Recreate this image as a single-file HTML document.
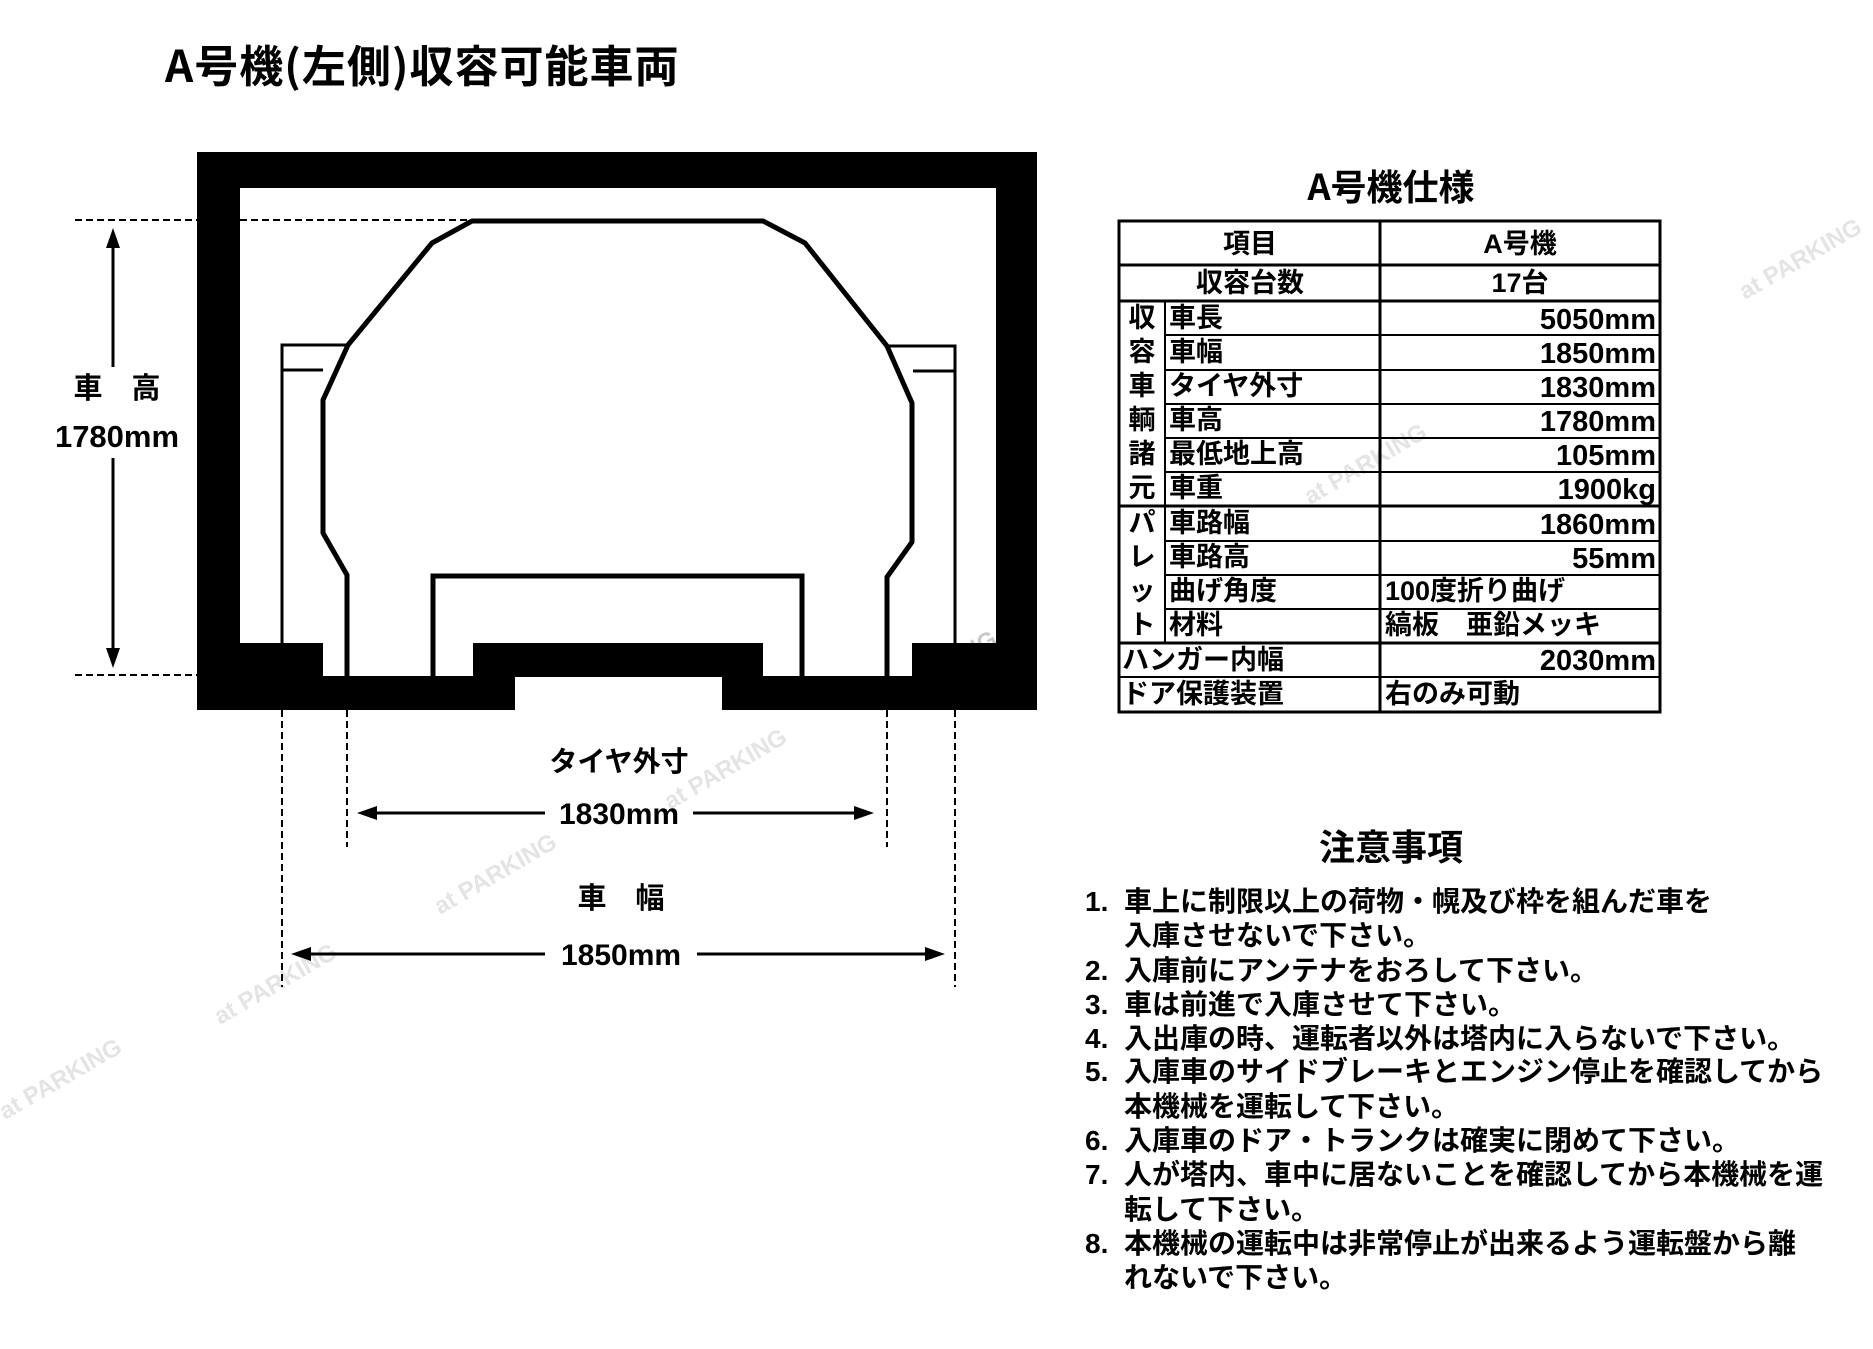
<!DOCTYPE html>
<html><head><meta charset="utf-8"><style>
html,body{margin:0;padding:0;background:#fff;width:1873px;height:1349px;overflow:hidden}
svg{display:block}
text{font-family:"Liberation Sans","Noto Sans CJK JP",sans-serif;font-weight:bold;fill:#000}
.j{font-family:"Noto Sans CJK JP","Liberation Sans",sans-serif}
text.wm{fill:#e4e4e4;font-family:"Liberation Sans",sans-serif;font-size:24px}
text.wm2{fill:#c8c8c8;font-family:"Liberation Sans",sans-serif;font-size:24px}
</style></head><body>
<svg width="1873" height="1349" viewBox="0 0 1873 1349" xmlns="http://www.w3.org/2000/svg">
<!-- watermarks -->
<text class="wm2" transform="translate(880,712) rotate(-30)">at PARKING</text>
<text class="wm" transform="translate(670,810) rotate(-30)">at PARKING</text>
<text class="wm" transform="translate(440,915) rotate(-30)">at PARKING</text>
<text class="wm" transform="translate(220,1025) rotate(-30)">at PARKING</text>
<text class="wm" transform="translate(5,1120) rotate(-30)">at PARKING</text>
<text class="wm" transform="translate(1310,505) rotate(-30)">at PARKING</text>
<text class="wm" transform="translate(1745,300) rotate(-30)">at PARKING</text>

<text x="165" y="82" font-size="44" class="j" letter-spacing="1">A号機(左側)収容可能車両</text>

<!-- frame -->
<g fill="#000">
<rect x="197" y="152" width="840" height="36"/>
<rect x="197" y="152" width="43" height="558"/>
<rect x="996" y="152" width="41" height="558"/>
<rect x="197" y="643" width="126" height="67"/>
<rect x="912" y="643" width="125" height="67"/>
<rect x="197" y="676" width="318" height="34"/>
<rect x="722" y="676" width="315" height="34"/>
<rect x="473" y="643" width="290" height="34"/>
</g>
<polyline points="433,676 433,576 802,576 802,676" fill="none" stroke="#000" stroke-width="5"/>
<polyline points="347,676 347,575 323,533 323,400 348,345 432,243 472,221 763,221 805,243 887,346 912,403 912,542 887,577 887,676" fill="none" stroke="#000" stroke-width="5" stroke-linejoin="round"/>
<g fill="none" stroke="#000" stroke-width="3">
<polyline points="282,644 282,345 348,345"/>
<polyline points="282,370 323,370"/>
<polyline points="887,346 955,346 955,644"/>
<polyline points="913,371 955,371"/>
</g>
<g stroke="#000" stroke-width="2" stroke-dasharray="7,4" fill="none">
<line x1="75" y1="220" x2="197" y2="220"/>
<line x1="240" y1="220" x2="472" y2="220"/>
<line x1="75" y1="675" x2="197" y2="675"/>
<line x1="282" y1="370" x2="282" y2="644"/>
<line x1="955" y1="371" x2="955" y2="644"/>
<line x1="282" y1="710" x2="282" y2="987"/>
<line x1="347" y1="710" x2="347" y2="847"/>
<line x1="887" y1="710" x2="887" y2="847"/>
<line x1="955" y1="710" x2="955" y2="987"/>
</g>
<g stroke="#000" stroke-width="3">
<line x1="113" y1="240" x2="113" y2="367"/>
<line x1="113" y1="458" x2="113" y2="655"/>
<line x1="370" y1="813" x2="545" y2="813"/>
<line x1="693" y1="813" x2="860" y2="813"/>
<line x1="305" y1="954" x2="545" y2="954"/>
<line x1="697" y1="954" x2="930" y2="954"/>
</g>
<g fill="#000">
<polygon points="113,228 106,248 120,248"/>
<polygon points="113,668 106,648 120,648"/>
<polygon points="357,813 377,806 377,820"/>
<polygon points="874,813 854,806 854,820"/>
<polygon points="291,954 311,947 311,961"/>
<polygon points="945,954 925,947 925,961"/>
</g>
<text x="117" y="398" font-size="29" text-anchor="middle" class="j">車　高</text>
<text x="117" y="447" font-size="31" text-anchor="middle">1780mm</text>
<text x="619" y="771" font-size="28" text-anchor="middle" class="j">タイヤ外寸</text>
<text x="619" y="824" font-size="30" text-anchor="middle">1830mm</text>
<text x="621" y="908" font-size="29" text-anchor="middle" class="j">車　幅</text>
<text x="621" y="965" font-size="30" text-anchor="middle">1850mm</text>

<!-- table -->
<text x="1391" y="200" font-size="36" text-anchor="middle" class="j">A号機仕様</text>
<g stroke="#000" fill="none">
<rect x="1119" y="221" width="541" height="491" stroke-width="3"/>
<line x1="1380" y1="221" x2="1380" y2="712" stroke-width="3"/>
<line x1="1165" y1="301" x2="1165" y2="643" stroke-width="2"/>
<line x1="1119" y1="265" x2="1660" y2="265" stroke-width="3"/>
<line x1="1119" y1="301" x2="1660" y2="301" stroke-width="3"/>
<line x1="1165" y1="335" x2="1660" y2="335" stroke-width="2"/>
<line x1="1165" y1="370" x2="1660" y2="370" stroke-width="2"/>
<line x1="1165" y1="404" x2="1660" y2="404" stroke-width="2"/>
<line x1="1165" y1="438" x2="1660" y2="438" stroke-width="2"/>
<line x1="1165" y1="472" x2="1660" y2="472" stroke-width="2"/>
<line x1="1119" y1="506" x2="1660" y2="506" stroke-width="3"/>
<line x1="1165" y1="541" x2="1660" y2="541" stroke-width="2"/>
<line x1="1165" y1="575" x2="1660" y2="575" stroke-width="2"/>
<line x1="1165" y1="609" x2="1660" y2="609" stroke-width="2"/>
<line x1="1119" y1="643" x2="1660" y2="643" stroke-width="3"/>
<line x1="1119" y1="677" x2="1660" y2="677" stroke-width="2"/>
</g>
<g font-size="27" class="j">
<text x="1250" y="253" text-anchor="middle">項目</text>
<text x="1520" y="253" text-anchor="middle">A号機</text>
<text x="1250" y="292" text-anchor="middle">収容台数</text>
<text x="1520" y="292" text-anchor="middle">17台</text>
<g text-anchor="middle">
<text x="1142" y="327">収</text><text x="1142" y="361">容</text><text x="1142" y="395">車</text>
<text x="1142" y="429">輌</text><text x="1142" y="463">諸</text><text x="1142" y="497">元</text>
<text x="1142" y="532">パ</text><text x="1142" y="566">レ</text><text x="1142" y="600">ッ</text><text x="1142" y="634">ト</text>
</g>
<text x="1169" y="327">車長</text><text x="1169" y="361">車幅</text><text x="1169" y="395">タイヤ外寸</text>
<text x="1169" y="429">車高</text><text x="1169" y="463">最低地上高</text><text x="1169" y="497">車重</text>
<text x="1169" y="532">車路幅</text><text x="1169" y="566">車路高</text><text x="1169" y="600">曲げ角度</text><text x="1169" y="634">材料</text>
<text x="1122" y="669">ハンガー内幅</text><text x="1122" y="703">ドア保護装置</text>
<text x="1385" y="600">100度折り曲げ</text>
<text x="1385" y="634">縞板　亜鉛メッキ</text>
<text x="1385" y="703">右のみ可動</text>
</g>
<g font-size="29" text-anchor="end">
<text x="1656" y="329">5050mm</text><text x="1656" y="363">1850mm</text><text x="1656" y="397">1830mm</text>
<text x="1656" y="431">1780mm</text><text x="1656" y="465">105mm</text><text x="1656" y="499">1900kg</text>
<text x="1656" y="534">1860mm</text><text x="1656" y="568">55mm</text><text x="1656" y="670">2030mm</text>
</g>

<!-- notes -->
<text x="1391" y="860" font-size="36" text-anchor="middle" class="j">注意事項</text>
<g font-size="28" class="j">
<text x="1085" y="911">1.</text><text x="1124" y="911">車上に制限以上の荷物・幌及び枠を組んだ車を</text>
<text x="1124" y="945">入庫させないで下さい。</text>
<text x="1085" y="980">2.</text><text x="1124" y="980">入庫前にアンテナをおろして下さい。</text>
<text x="1085" y="1014">3.</text><text x="1124" y="1014">車は前進で入庫させて下さい。</text>
<text x="1085" y="1048">4.</text><text x="1124" y="1048">入出庫の時、運転者以外は塔内に入らないで下さい。</text>
<text x="1085" y="1081">5.</text><text x="1124" y="1081">入庫車のサイドブレーキとエンジン停止を確認してから</text>
<text x="1124" y="1116">本機械を運転して下さい。</text>
<text x="1085" y="1150">6.</text><text x="1124" y="1150">入庫車のドア・トランクは確実に閉めて下さい。</text>
<text x="1085" y="1184">7.</text><text x="1124" y="1184">人が塔内、車中に居ないことを確認してから本機械を運</text>
<text x="1124" y="1219">転して下さい。</text>
<text x="1085" y="1253">8.</text><text x="1124" y="1253">本機械の運転中は非常停止が出来るよう運転盤から離</text>
<text x="1124" y="1287">れないで下さい。</text>
</g>
</svg>
</body></html>
